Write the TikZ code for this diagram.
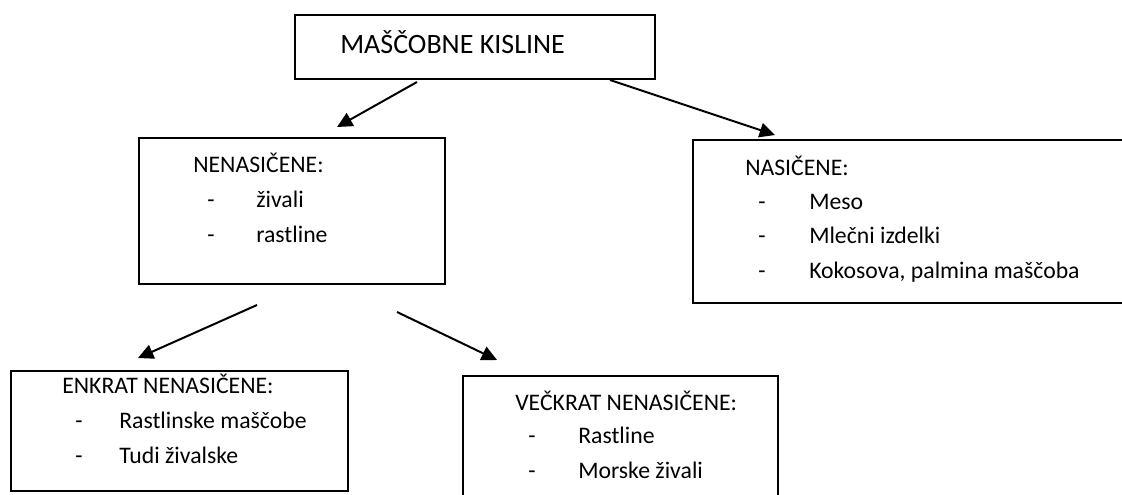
\documentclass[tikz,border=0pt]{standalone}
\usepackage{fontspec}
\setmainfont{Carlito}
\usetikzlibrary{arrows.meta}
\begin{document}
\begin{tikzpicture}[x=0.75pt,y=-0.75pt,
  box/.style={draw=black, line width=1.5pt, rectangle, anchor=north west, inner sep=0pt},
  lbl/.style={anchor=base west, inner sep=0pt, font=\fontsize{17.8}{20}\selectfont},
  ttl/.style={anchor=base west, inner sep=0pt, font=\fontsize{21}{24}\selectfont},
  conn/.style={line width=1.5pt, -{Triangle[length=11.5pt,width=11pt]}}]
\useasboundingbox (0,0) rectangle (1122,494);
% boxes
\node[box, minimum width=270pt, minimum height=48pt] (top) at (294,14) {};
\node[box, minimum width=229.5pt, minimum height=109.5pt] (nen) at (138,137) {};
\node[box, minimum width=327pt, minimum height=122pt] (nas) at (692,139) {};
\node[box, minimum width=252.75pt, minimum height=90pt] (enk) at (10,370) {};
\node[box, minimum width=236.25pt, minimum height=96pt] (vec) at (462,375) {};
% texts
\node[ttl] (t0) at (340,53) {MAŠČOBNE KISLINE};
\node[lbl] (n0) at (193,172) {NENASIČENE:};
\node[lbl] (n1d) at (207,207) {-};
\node[lbl] (n1) at (256,207) {živali};
\node[lbl] (n2d) at (207,242) {-};
\node[lbl] (n2) at (256,242) {rastline};
\node[lbl] (s0) at (745,175) {NASIČENE:};
\node[lbl] (s1d) at (758,209) {-};
\node[lbl] (s1) at (809,209) {Meso};
\node[lbl] (s2d) at (758,243) {-};
\node[lbl] (s2) at (809,243) {Mlečni izdelki};
\node[lbl] (s3d) at (758,278) {-};
\node[lbl] (s3) at (809,278) {Kokosova, palmina maščoba};
\node[lbl] (e0) at (62,393) {ENKRAT NENASIČENE:};
\node[lbl] (e1d) at (75,428) {-};
\node[lbl] (e1) at (119,428) {Rastlinske maščobe};
\node[lbl] (e2d) at (75,463) {-};
\node[lbl] (e2) at (119,463) {Tudi živalske};
\node[lbl] (v0) at (515,410) {VEČKRAT NENASIČENE:};
\node[lbl] (v1d) at (528,443) {-};
\node[lbl] (v1) at (578,443) {Rastline};
\node[lbl] (v2d) at (528,478) {-};
\node[lbl] (v2) at (578,478) {Morske živali};
% connector end points
\coordinate (a1s) at (417,82);
\coordinate (a1e) at (337,127);
\coordinate (a2s) at (610,80);
\coordinate (a2e) at (775,135);
\coordinate (a3s) at (257,305);
\coordinate (a3e) at (138,358);
\coordinate (a4s) at (397,312);
\coordinate (a4e) at (497,360);
\draw[conn] (a1s) -- (a1e);
\draw[conn] (a2s) -- (a2e);
\draw[conn] (a3s) -- (a3e);
\draw[conn] (a4s) -- (a4e);
\end{tikzpicture}
\end{document}
